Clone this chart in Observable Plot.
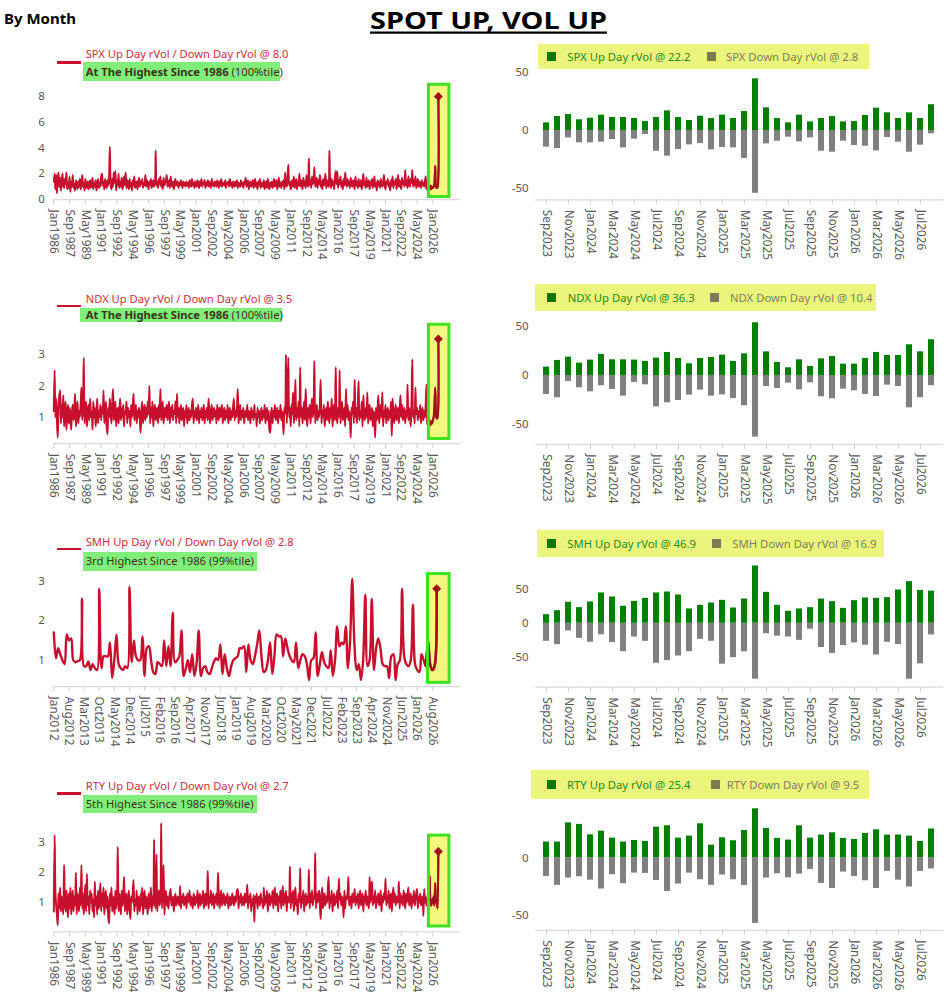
<!DOCTYPE html>
<html><head><meta charset="utf-8">
<script src="https://cdn.jsdelivr.net/npm/d3@7"></script>
<script src="https://cdn.jsdelivr.net/npm/@observablehq/plot@0.6"></script>
<style>
body{margin:0;background:#fff;}
#page{position:relative;width:949px;height:997px;overflow:hidden;font-family:"Noto Sans","Open Sans",sans-serif;}
.abs{position:absolute;white-space:nowrap;}
</style></head><body><div id="page"></div>
<script>
// ---------- DATA ----------
const spxRatio = [
1.4,2.0,0.8,1.9,0.5,1.5,2.1,1.0,1.7,0.7,1.3,2.0,
1.1,0.9,1.6,1.2,2.1,0.8,1.3,0.9,1.8,0.6,1.4,1.0,
1.9,0.9,1.2,0.7,1.5,1.1,0.8,1.4,1.0,1.6,0.8,1.2,
1.9,1.0,1.3,0.7,1.6,1.1,0.9,1.4,0.8,1.2,1.5,0.9,
1.1,1.7,0.8,1.3,1.0,1.5,0.7,1.2,1.6,0.9,1.3,1.0,
1.8,2.0,1.1,1.4,0.8,1.6,1.2,0.9,1.5,1.1,1.7,4.1,
1.2,0.8,1.6,1.0,2.1,1.3,2.2,0.7,1.5,1.1,2.0,0.9,
1.4,1.0,1.7,0.8,1.3,1.8,1.1,2.1,0.9,1.5,1.2,0.8,
1.6,1.0,1.3,0.7,1.5,1.1,1.8,0.9,1.2,1.4,0.8,1.3,
1.7,1.0,1.4,1.2,1.6,0.9,1.3,1.1,1.9,1.0,1.5,1.2,
0.8,1.4,1.1,1.6,0.9,1.3,1.5,1.0,1.2,3.8,1.1,1.4,
0.9,1.6,1.2,1.8,1.0,1.4,0.8,1.7,1.1,1.3,1.5,1.9,
1.0,1.3,1.5,0.9,1.8,1.2,1.0,1.4,0.8,1.3,1.6,1.1,
1.2,1.4,0.9,1.3,1.1,1.5,1.2,0.9,1.4,1.1,1.3,1.0,
1.4,1.1,1.3,0.9,1.5,1.2,1.0,1.6,1.1,1.3,0.9,1.4,
1.2,1.0,1.5,1.3,0.9,1.4,1.1,1.6,1.0,1.3,1.2,1.5,
0.9,1.3,1.1,1.5,1.0,1.4,1.2,0.9,1.6,1.1,1.3,1.0,
1.4,1.2,1.0,1.5,1.3,0.9,1.4,1.1,1.6,1.0,1.3,1.2,
1.1,1.5,0.9,1.3,1.2,1.4,1.0,1.6,1.1,1.3,0.9,1.4,
1.2,1.0,1.4,1.1,1.5,0.9,1.3,1.2,1.0,1.5,1.1,1.3,
0.9,1.4,1.2,1.7,1.0,1.3,1.5,0.8,1.2,1.4,1.0,1.3,
1.5,0.9,1.2,1.6,1.0,1.3,0.8,1.4,1.1,1.6,0.9,1.2,
1.3,1.0,1.5,0.8,1.2,1.4,0.9,1.6,1.1,0.8,1.3,1.0,
1.4,0.9,1.2,1.6,1.0,1.3,1.5,0.8,1.2,1.7,1.0,1.3,
0.9,1.4,1.1,1.5,0.8,2.1,1.2,1.0,1.6,2.7,1.1,1.4,
0.8,1.3,1.5,1.0,1.8,0.9,1.2,1.6,0.8,1.4,1.1,2.0,
1.0,1.5,1.2,0.8,1.7,1.1,1.4,0.9,1.9,1.2,1.0,3.2,
1.1,1.5,0.9,1.8,1.2,1.4,2.5,1.0,1.3,1.7,0.9,1.5,
1.2,1.9,1.0,1.4,0.8,1.6,1.1,1.3,2.0,0.9,1.5,1.2,
1.0,3.8,1.3,0.9,1.6,1.1,1.4,0.8,1.7,2.2,1.2,2.2,
0.9,1.5,1.2,1.8,1.0,1.4,0.8,1.6,1.1,2.1,1.3,1.0,
1.6,1.1,1.4,0.9,1.7,1.2,1.0,1.5,1.3,0.8,1.8,1.1,
1.4,0.9,1.6,1.2,1.0,1.5,0.8,1.3,2.0,1.1,1.4,0.9,
1.7,1.0,1.3,1.5,0.8,1.4,1.1,1.6,0.9,1.2,1.8,1.0,
1.3,0.7,1.5,1.1,1.4,0.9,1.6,1.2,1.0,1.3,1.9,1.1,
0.8,1.4,1.2,1.6,1.0,1.3,0.7,1.5,1.1,1.8,0.9,1.4,
1.2,1.6,0.8,1.3,1.9,1.0,1.5,1.1,0.8,1.7,1.2,1.4,
1.0,2.3,1.1,1.5,0.9,1.8,1.2,1.0,1.6,1.3,2.3,1.0,
1.5,1.1,1.8,0.9,1.3,1.6,1.0,1.4,1.2,0.9,1.5,1.1,
1.3,1.0,1.4,1.8,0.8,0.9,1.0,0.8,0.9,1.1,0.8,1.0,
0.9,1.0,1.2,2.6,1.0,0.9,1.0,8.0];

const ndxRatio = [
1.2,2.5,1.0,1.6,0.9,0.35,1.3,1.7,1.85,0.8,1.4,1.0,
1.7,0.7,1.2,1.5,0.6,1.1,1.4,0.8,1.3,1.0,0.6,1.2,
1.4,0.9,1.2,1.75,0.7,1.1,1.5,0.8,1.2,1.0,1.4,1.95,
0.9,1.3,2.9,0.8,1.2,1.5,0.7,1.1,1.4,0.9,1.6,1.0,
1.2,0.6,1.5,1.0,1.3,0.7,1.1,1.6,0.8,1.2,1.0,1.4,
0.9,1.3,1.1,1.85,0.8,1.2,1.5,0.7,0.45,1.3,1.0,1.6,
1.1,0.8,1.4,1.9,0.9,1.2,1.5,0.7,1.1,1.3,0.8,1.2,
1.6,0.9,1.3,1.0,1.4,0.7,1.2,1.1,1.5,0.8,1.3,1.0,
1.2,0.7,1.4,1.0,1.3,1.75,0.9,1.1,1.4,0.8,1.2,1.0,
1.3,0.9,0.5,1.2,1.5,0.8,1.1,1.4,0.9,1.3,1.0,1.5,
1.1,2.0,0.8,1.3,1.0,1.5,0.7,1.2,1.4,0.9,1.1,1.3,
0.8,1.4,1.0,1.9,0.9,1.2,1.5,0.8,1.1,1.3,1.0,1.4,
0.9,1.2,1.5,0.8,1.3,1.0,1.4,0.9,1.2,1.1,1.5,0.8,
1.75,1.0,1.3,0.8,1.2,1.4,0.9,1.1,1.3,0.7,1.2,1.0,
1.4,0.8,1.1,1.3,0.9,1.2,1.0,1.4,1.6,0.8,1.2,1.0,
1.3,0.9,1.1,1.4,0.8,1.2,1.0,1.3,0.9,1.1,1.4,0.8,
1.2,1.0,1.3,0.9,1.6,1.1,0.8,1.2,1.4,0.9,1.1,1.3,
1.0,1.2,0.8,1.4,1.1,0.9,1.3,1.0,1.2,1.4,0.8,1.1,
1.3,0.9,1.2,1.0,1.4,0.8,1.1,1.3,0.9,1.2,1.0,1.3,
1.6,0.9,1.2,1.0,1.3,1.9,0.8,1.1,1.4,0.9,1.2,1.0,
1.3,0.8,1.1,1.2,1.0,1.4,0.9,1.2,1.1,0.8,1.3,1.0,
1.2,0.9,1.4,1.0,1.1,0.7,1.3,1.0,1.2,0.8,1.1,1.3,
0.9,1.2,1.0,1.4,0.8,1.1,1.3,0.9,1.2,0.6,0.5,1.1,
1.3,0.8,1.2,1.0,1.4,0.9,1.1,1.3,0.8,1.2,1.0,1.4,
0.9,1.2,1.0,0.45,1.3,1.1,3.0,0.8,1.5,2.9,1.0,1.3,
0.7,1.4,1.1,1.8,0.8,1.2,2.2,0.9,1.3,1.0,1.5,0.7,
2.6,1.0,1.3,0.8,1.2,1.5,0.9,1.9,1.1,0.7,1.3,1.0,
1.4,0.8,1.2,1.6,1.0,1.3,2.8,0.8,1.1,1.4,0.9,1.2,
1.0,1.5,2.2,0.8,1.2,1.0,1.4,0.7,1.1,1.3,0.9,1.5,
1.1,0.8,1.3,1.0,1.6,0.7,1.2,1.4,0.9,2.6,1.1,0.8,
1.3,1.0,2.5,0.8,1.2,1.5,0.9,1.1,1.3,0.7,1.9,1.0,
1.4,0.9,1.2,1.0,0.35,1.3,1.1,1.5,0.8,2.2,1.0,1.3,
0.8,1.4,2.15,0.9,1.2,1.0,1.5,0.7,1.7,1.1,0.9,1.3,
1.0,1.8,0.8,1.2,1.4,0.9,1.1,1.3,0.7,1.2,1.0,0.35,
1.3,0.9,1.2,1.7,0.8,1.1,1.4,1.0,1.8,0.7,1.2,1.0,
1.4,0.8,1.1,1.3,0.9,1.2,1.0,1.5,0.4,1.6,1.1,0.8,
1.2,1.4,0.9,1.1,1.3,0.8,1.2,1.7,1.0,1.4,0.9,1.1,
1.3,0.8,1.2,1.0,2.05,0.9,1.3,1.1,0.7,1.4,2.85,1.0,
1.2,0.8,1.95,1.1,1.3,0.9,1.2,1.0,1.4,0.8,1.1,1.3,
0.9,1.2,1.0,1.4,2.05,0.8,0.75,0.8,0.9,0.75,0.85,0.8,
0.9,1.0,1.3,1.95,1.1,0.95,1.0,3.5];

const smhRatio = [
1.7,1.05,1.3,1.15,1.0,0.9,1.65,1.5,1.55,1.0,0.95,0.98,
1.0,2.55,0.85,0.85,0.97,0.75,0.9,0.8,0.75,2.8,0.8,1.1,
1.1,1.1,1.45,0.55,1.0,1.65,0.9,0.8,0.75,0.85,0.8,2.85,
0.95,1.5,1.1,1.0,1.0,1.6,0.6,1.3,1.35,1.0,0.7,0.65,
0.95,0.9,0.85,1.5,0.85,1.35,0.85,2.2,0.95,1.0,1.1,1.75,
0.6,0.8,1.0,0.7,1.15,0.6,0.9,1.75,0.6,0.8,0.85,0.7,
0.65,0.8,0.95,1.05,1.0,1.4,0.65,1.15,0.8,0.6,0.85,1.0,
1.05,1.1,1.3,1.3,1.35,0.7,1.4,1.0,0.9,1.1,1.4,1.75,
1.1,0.7,0.75,1.0,1.45,0.65,1.1,1.65,1.6,1.6,1.1,1.55,
1.3,1.1,1.0,0.95,1.45,0.8,1.0,1.15,1.1,0.9,0.5,1.0,
1.05,1.7,0.6,0.9,1.2,0.95,0.85,0.8,1.25,0.6,1.0,1.85,
1.35,1.45,1.4,1.85,0.8,1.5,3.05,1.4,0.75,0.9,0.5,1.0,
2.65,0.85,1.0,2.55,0.75,1.3,1.55,1.3,0.9,0.85,0.85,0.55,
1.1,1.15,0.5,0.9,1.0,2.8,1.1,0.9,0.85,1.0,2.4,0.9,
0.75,0.7,1.15,1.0,0.85,1.5,0.9,0.75,0.85,2.8];

const rtyRatio = [
0.7,3.25,1.4,0.9,0.6,0.25,1.3,0.8,1.5,0.7,1.2,1.0,
0.6,2.25,1.1,0.7,1.4,0.9,0.5,1.3,0.8,1.5,0.6,1.1,
1.4,0.7,1.2,0.9,2.0,0.6,1.3,1.0,0.7,1.5,0.9,2.25,
0.8,1.3,0.6,1.1,1.6,0.7,1.95,0.9,1.2,0.6,1.4,1.0,
1.3,0.7,1.1,0.5,1.7,0.9,1.2,0.6,1.4,0.8,1.1,1.65,
0.7,1.3,0.9,1.5,0.6,1.1,1.4,0.8,1.2,0.5,0.3,1.3,
0.9,1.5,0.7,1.2,1.0,0.6,1.4,0.8,1.1,2.85,0.7,1.3,
1.0,0.6,1.4,0.9,1.2,1.85,0.7,1.1,1.3,0.6,1.0,1.4,
0.8,0.45,1.2,1.0,1.3,1.75,0.7,1.1,0.9,1.4,0.6,1.2,
1.0,0.7,1.3,0.9,1.5,0.6,1.1,1.4,0.8,1.2,1.0,0.6,
1.3,0.8,1.1,1.5,0.7,1.2,0.9,3.1,1.0,0.8,2.6,0.7,
1.2,1.4,0.9,1.1,3.65,0.8,1.3,2.25,0.6,1.1,1.4,0.9,
1.2,0.8,1.1,1.3,1.45,0.9,1.0,1.2,0.7,1.1,1.3,0.9,
1.0,1.2,1.1,0.9,1.55,0.8,1.2,1.0,1.3,0.9,1.1,1.2,
0.8,1.3,1.0,1.1,1.4,0.9,1.2,1.0,0.8,1.3,1.1,0.9,
1.2,1.0,1.4,0.8,1.1,1.3,0.9,1.2,1.0,1.4,0.8,1.1,
1.3,0.9,1.1,2.05,0.8,1.2,1.0,1.4,0.9,1.1,1.3,0.8,
1.2,1.0,1.3,0.9,2.0,1.1,0.8,1.2,1.4,0.9,1.0,1.3,
1.1,0.9,1.2,1.0,1.3,0.8,1.1,1.2,0.9,1.0,1.3,1.1,
0.9,1.2,1.0,1.1,1.4,1.45,0.8,1.2,1.0,1.3,0.9,1.1,
1.2,0.9,1.3,1.0,1.1,1.6,0.8,1.2,1.0,1.3,0.7,1.1,
0.9,1.25,0.35,1.2,1.0,1.3,0.8,1.1,1.2,0.9,1.3,1.0,
1.1,0.8,1.5,0.9,1.2,1.0,1.4,0.7,1.1,1.3,0.9,1.2,
1.0,1.4,0.8,1.2,1.5,0.9,1.1,1.3,0.7,1.2,1.0,1.4,
0.8,1.2,1.55,0.9,1.3,1.0,1.4,0.7,1.2,1.0,1.1,2.2,
0.8,1.3,1.0,1.4,0.7,1.2,1.5,0.9,1.1,0.6,1.3,1.0,
2.15,0.8,1.2,1.0,1.4,0.7,1.1,1.3,0.9,1.2,1.0,2.1,
0.8,1.3,1.0,1.4,0.9,1.1,1.2,2.65,0.8,1.3,1.0,1.2,
1.4,0.9,0.45,1.2,1.5,0.8,1.1,1.3,0.9,1.2,1.0,1.4,
1.85,0.8,1.2,1.0,1.4,0.7,1.1,1.3,0.9,1.2,1.0,1.4,
0.8,1.8,1.1,1.3,0.9,1.2,1.0,0.5,1.4,0.8,1.2,1.1,
1.3,1.85,0.9,1.1,1.2,0.8,1.3,1.0,1.1,1.45,0.9,1.2,
1.0,1.3,0.8,1.2,1.4,0.9,1.1,1.3,0.7,1.2,1.0,1.4,
0.9,1.2,1.1,0.8,1.85,1.0,1.3,1.7,0.9,1.2,1.0,1.4,
0.8,1.2,1.0,1.3,0.9,1.1,1.4,0.7,1.2,1.0,1.3,1.1,
1.8,0.9,1.2,1.0,1.4,0.8,1.1,1.3,0.7,1.2,1.5,1.0,
1.3,0.9,1.2,1.0,1.1,1.7,0.8,1.3,1.0,1.2,0.9,1.4,
1.1,0.8,1.3,1.0,1.2,1.5,0.9,1.1,1.3,0.8,1.2,1.0,
1.4,0.9,1.1,1.3,1.45,0.8,1.2,1.0,1.3,0.9,1.1,1.2,
0.55,1.45,1.0,1.2,0.9,1.1,1.0,1.3,1.9,1.0,0.9,1.1,
1.0,1.2,0.9,1.65,1.0,1.1,0.8,2.7];

const longTicks = ["Jan1986","Sep1987","May1989","Jan1991","Sep1992","May1994","Jan1996","Sep1997","May1999","Jan2001","Sep2002","May2004","Jan2006","Sep2007","May2009","Jan2011","Sep2012","May2014","Jan2016","Sep2017","May2019","Jan2021","Sep2022","May2024","Jan2026"];
const smhTicks = ["Jan2012","Aug2012","Mar2013","Oct2013","May2014","Dec2014","Jul2015","Feb2016","Sep2016","Apr2017","Nov2017","Jun2018","Jan2019","Aug2019","Mar2020","Oct2020","May2021","Dec2021","Jul2022","Feb2023","Sep2023","Apr2024","Nov2024","Jun2025","Jan2026","Aug2026"];

const barMonths = ["Sep2023","Oct2023","Nov2023","Dec2023","Jan2024","Feb2024","Mar2024","Apr2024","May2024","Jun2024","Jul2024","Aug2024","Sep2024","Oct2024","Nov2024","Dec2024","Jan2025","Feb2025","Mar2025","Apr2025","May2025","Jun2025","Jul2025","Aug2025","Sep2025","Oct2025","Nov2025","Dec2025","Jan2026","Feb2026","Mar2026","Apr2026","May2026","Jun2026","Jul2026","Aug2026"];
const barTicks = ["Sep2023","Nov2023","Jan2024","Mar2024","May2024","Jul2024","Sep2024","Nov2024","Jan2025","Mar2025","May2025","Jul2025","Sep2025","Nov2025","Jan2026","Mar2026","May2026","Jul2026"];

const spxUp   = [6.6,12,13.8,9.2,10.6,13.2,11.2,11.2,10.3,7.7,11.2,16.9,11.2,8.6,12.3,10.3,13.2,10.3,16.3,44.4,19.5,10.3,6.6,13.2,7.4,10.3,12,7.4,7.7,12.9,19.2,15.2,10.3,15.2,10.3,22.2];
const spxDown = [14.3,15.5,6.3,10.6,10.6,10,7.7,14.9,7.4,3.4,17.8,22,16.3,12.3,11.2,16.6,14.6,14.9,24,53.9,11.5,9.2,5.7,9.7,6.3,17.8,18.6,9.2,12.9,13.5,17.5,6,10,18.6,12.6,2.8];
const ndxUp   = [8.5,15.3,18.6,12.5,15.6,21.4,15.9,15.9,15.6,14.2,17.6,23.4,17.3,11.9,17.3,18.3,20.7,14.2,22,53.6,24,13.2,7.8,15.9,9.2,16.9,19.3,11.5,11.5,17.3,23.4,20.3,20.3,31.2,24,36.3];
const ndxDown = [19.3,22.7,6.1,12.5,16.6,10.5,14.2,21,7.1,9.5,31.9,27.8,25.4,20,14.9,21,19.7,23.4,30.8,62.7,11.2,13.2,7.8,14.6,7.5,21.7,23.7,13.9,15.6,19.3,21.4,9.8,11.2,32.9,22.7,10.4];
const smhUp   = [12.6,18.4,30.6,22.8,31.1,44.2,38.3,24.8,32,36.4,44.2,45.6,41.3,20.9,26.2,29.6,33.5,22.3,35.4,83.5,45.1,26.2,17.5,20.9,22.8,35.4,31.6,21.8,33,36.9,36.4,37.4,48.5,60.7,48,46.9];
const smhDown = [26.2,31,11,21.9,27.6,16.7,28.1,41.4,20,26.2,58.1,54.3,47.6,41.4,23.3,26.2,59.5,50,41.4,81.4,15.2,18.6,20,24.8,8.6,35.2,43.8,32.4,28.6,31.9,46.2,27.6,31,81.4,59,16.9];
const rtyUp   = [14,14,30.8,29.4,20.3,23.5,17.4,14,15.4,14.5,27,28.2,17.4,19.2,29.9,11.3,17.7,15.1,24.1,43,25.9,17.2,15.7,28.2,17.4,20.1,22.1,17.2,16.3,21.5,24.7,20.1,20.1,19.2,14.5,25.4];
const rtyDown = [16,23.8,17.4,16.3,19.2,27,14.5,22.4,13.1,13.4,19.5,29.1,22.7,13.1,18.9,23.8,14.8,18.9,23.8,57,17.4,13.7,17.2,14,9.9,22.1,26.5,12.2,16,19.8,26.5,11.6,19.2,25.3,11.6,9.5];

const tickers = ["SPX","NDX","SMH","RTY"];
const badgeBold = ["At The Highest Since 1986","At The Highest Since 1986","",""];
const badgeRest = ["(100%tile)","(100%tile)","3rd Highest Since 1986 (99%tile)","5th Highest Since 1986 (99%tile)"];

// ---------- RENDER ----------
const RED = "#c8102e", DARK = "#a30f16", FONT = '"Noto Sans","Open Sans",sans-serif';
const page = document.getElementById("page");
const parseMon = d3.utcParse("%b%Y");
const fmtMon = d3.utcFormat("%b%Y");
function addDiv(style, html) {
  const d = document.createElement("div"); d.className = "abs";
  Object.assign(d.style, style); if (html != null) d.innerHTML = html;
  page.appendChild(d); return d;
}
const px = v => v + "px";

function drawLine(c) {
  const s = parseMon(c.start);
  const data = c.values.map((v, i) => ({date: d3.utcMonth.offset(s, i), v}));
  const bFrom = parseMon(c.box[0]), bTo = parseMon(c.box[1]);
  const tail = data.filter(d => d.date >= d3.utcMonth.offset(bFrom, -1));
  const last = data[data.length - 1];
  const box = [{x1: bFrom, x2: bTo, y1: c.boxY[0], y2: c.boxY[1]}];
  const mt = 6, mb = 66;
  const svg = Plot.plot({
    width: 470, height: mt + (c.bottom - c.top) + mb,
    marginLeft: 53.3, marginRight: 10, marginTop: mt, marginBottom: mb,
    style: {fontFamily: FONT, fontSize: "11.5px", background: "none", overflow: "visible", color: "#595959"},
    x: {type: "utc", domain: [s, parseMon(c.end)]},
    y: {domain: c.yDomain},
    marks: [
      Plot.rect(box, {x1: "x1", x2: "x2", y1: "y1", y2: "y2", fill: "#f6f77e"}),
      Plot.ruleY([c.yDomain[0]], {stroke: "#d9d9d9", strokeWidth: 1.2}),
      Plot.axisY({ticks: c.yTicks, tickFormat: d => String(d), tickSize: 0, tickPadding: 9, fontSize: 11.5, fill: "#595959", label: null}),
      Plot.axisX({ticks: c.ticks.map(parseMon), tickFormat: fmtMon, tickRotate: 90, tickSize: 5, tickPadding: 5,
                  stroke: "#d0d0d0", fill: "#595959", fontSize: 11.8, label: null}),
      Plot.line(data, {x: "date", y: "v", stroke: RED, strokeWidth: c.sw, curve: "catmull-rom"}),
      Plot.line(tail, {x: "date", y: "v", stroke: DARK, strokeWidth: c.sw, curve: "catmull-rom"}),
      Plot.dot([last], {x: "date", y: "v", symbol: "square", rotate: 45, r: 3.6, fill: DARK}),
      Plot.rect(box, {x1: "x1", x2: "x2", y1: "y1", y2: "y2", fill: "none", stroke: "#3fe21f", strokeWidth: 3})
    ]
  });
  Object.assign(svg.style, {position: "absolute", left: "0px", top: px(c.top - mt), maxWidth: "none"});
  page.appendChild(svg);
  return last.v;
}

function drawBars(c) {
  const rows = barMonths.map((m, i) => ({m, up: c.up[i], down: -c.down[i]}));
  const mt = 4, mb = 62;
  const svg = Plot.plot({
    width: 459, height: mt + (c.bottom - c.top) + mb,
    marginLeft: 45.1, marginRight: 5.8, marginTop: mt, marginBottom: mb,
    style: {fontFamily: FONT, fontSize: "11.5px", background: "none", overflow: "visible", color: "#595959"},
    x: {type: "band", domain: barMonths, paddingInner: 0.41, paddingOuter: 0.2},
    y: {domain: c.yDomain},
    marks: [
      Plot.ruleY([c.yDomain[0]], {stroke: "#d9d9d9", strokeWidth: 1.2}),
      Plot.barY(rows, {x: "m", y: "up", fill: "#008000"}),
      Plot.barY(rows, {x: "m", y: "down", fill: "#808080"}),
      Plot.axisY({ticks: c.yTicks, tickFormat: d => String(d), tickSize: 0, tickPadding: 7, fontSize: 11.5, fill: "#595959", label: null}),
      Plot.axisX({ticks: barTicks, tickRotate: 90, tickSize: 5, tickPadding: 5, stroke: "#d0d0d0", fill: "#595959", fontSize: 11.8, label: null})
    ]
  });
  Object.assign(svg.style, {position: "absolute", left: "490px", top: px(c.top - mt), maxWidth: "none"});
  page.appendChild(svg);
}

function leftLegend(i, lastVal, L) {
  addDiv({left: "57.3px", top: px(L.lineY - 1.25), width: "23.7px", height: "2.5px", background: RED});
  addDiv({left: "85.7px", top: px(L.t1 - 8), lineHeight: "16px", fontSize: "11.2px", color: "#c92f40"},
    `${tickers[i]} Up Day rVol / Down Day rVol @ ${lastVal.toFixed(1)}`);
  addDiv({left: px(L.bx0), top: px(L.by0), width: px(L.bx1 - L.bx0), height: px(L.by1 - L.by0), background: "#80ee78"});
  addDiv({left: "85.7px", top: px(L.t2 - 8), lineHeight: "16px", fontSize: "11.2px", color: "#3a3418"},
    (badgeBold[i] ? `<b>${badgeBold[i]}</b> ` : "") + badgeRest[i]);
}

function rightLegend(i, up, down, R) {
  addDiv({left: px(R.x0), top: px(R.y0), width: px(R.x1 - R.x0), height: px(R.y1 - R.y0), background: "#ebf57c"});
  const cy = (R.y0 + R.y1) / 2;
  addDiv({left: px(R.gs), top: px(cy - 4.5), width: "9px", height: "9px", background: "#007800"});
  addDiv({left: px(R.gt), top: px(cy - 8), lineHeight: "16px", fontSize: "11.3px", color: "#1f8c1f"},
    `${tickers[i]} Up Day rVol @ ${up.toFixed(1)}`);
  addDiv({left: px(R.rs), top: px(cy - 4.5), width: "9px", height: "9px", background: "#7c7c54"});
  addDiv({left: px(R.rt), top: px(cy - 8), lineHeight: "16px", fontSize: "11.3px", color: "#80805c"},
    `${tickers[i]} Down Day rVol @ ${down.toFixed(1)}`);
}

// title
const tsvg = d3.create("svg").attr("width", 949).attr("height", 40)
  .style("position", "absolute").style("left", "0px").style("top", "0px");
tsvg.append("text").attr("x", 4).attr("y", 24).attr("font-family", FONT).attr("font-weight", 700)
  .attr("font-size", 15).attr("fill", "#000").text("By Month");
tsvg.append("text").attr("x", 370).attr("y", 29.3).attr("font-family", FONT).attr("font-weight", 700)
  .attr("font-size", 23).attr("fill", "#000").attr("textLength", 237).attr("lengthAdjust", "spacingAndGlyphs")
  .text("SPOT UP, VOL UP");
tsvg.append("line").attr("x1", 370).attr("x2", 607).attr("y1", 32.6).attr("y2", 32.6)
  .attr("stroke", "#000").attr("stroke-width", 2.2);
page.appendChild(tsvg.node());

const lineCfg = [
  {values: spxRatio, start: "Jan1986", end: "Dec2028", ticks: longTicks, yDomain: [0, 9], yTicks: [0,2,4,6,8],
   box: ["Aug2025","Oct2027"], boxY: [0.2, 8.9], top: 83.2, bottom: 199.3, sw: 2},
  {values: ndxRatio, start: "Jan1986", end: "Dec2028", ticks: longTicks, yDomain: [0.15, 4.0], yTicks: [1,2,3],
   box: ["Aug2025","Oct2027"], boxY: [0.3, 3.96], top: 323.1, bottom: 443.3, sw: 2},
  {values: smhRatio, start: "Jan2012", end: "Sep2027", ticks: smhTicks, yDomain: [0.335, 3.21], yTicks: [1,2,3],
   box: ["Jun2026","Apr2027"], boxY: [0.43, 3.17], top: 571.6, bottom: 685.7, sw: 2.4},
  {values: rtyRatio, start: "Jan1986", end: "Dec2028", ticks: longTicks, yDomain: [0.02, 3.7], yTicks: [1,2,3],
   box: ["Aug2025","Oct2027"], boxY: [0.2, 3.23], top: 820.7, bottom: 931.1, sw: 2}
];
const leftLeg = [
  {t1: 54.3, lineY: 62.3, bx0: 82.7, by0: 61.7, bx1: 280, by1: 81, t2: 71.5},
  {t1: 299, lineY: 306, bx0: 80, by0: 308.3, bx1: 281.7, by1: 322.3, t2: 315.3},
  {t1: 542.3, lineY: 549, bx0: 82.7, by0: 551.7, bx1: 257.3, by1: 570.7, t2: 561},
  {t1: 786, lineY: 793.3, bx0: 82.7, by0: 795, bx1: 257.3, by1: 812.7, t2: 803.5}
];
const barCfg = [
  {up: spxUp, down: spxDown, yDomain: [-59.5, 55], yTicks: [-50, 0, 50], top: 66, bottom: 199.3},
  {up: ndxUp, down: ndxDown, yDomain: [-70, 62], yTicks: [-50, 0, 50], top: 313.6, bottom: 443.4},
  {up: smhUp, down: smhDown, yDomain: [-93, 90], yTicks: [-50, 0, 50], top: 560.7, bottom: 686.4},
  {up: rtyUp, down: rtyDown, yDomain: [-63, 52], yTicks: [-50, 0], top: 798.1, bottom: 929.9}
];
const rightLeg = [
  {x0: 538.3, y0: 44, x1: 869, y1: 69, gs: 546.7, gt: 567.3, rs: 707.3, rt: 726},
  {x0: 535, y0: 284, x1: 875.7, y1: 311, gs: 546.7, gt: 567.7, rs: 710, rt: 730},
  {x0: 536.7, y0: 530, x1: 884.3, y1: 557.3, gs: 547.3, gt: 567.3, rs: 711.7, rt: 732.3},
  {x0: 531, y0: 770, x1: 869, y1: 799, gs: 546.7, gt: 567, rs: 710.7, rt: 726.7}
];

lineCfg.forEach((c, i) => {
  const lastVal = drawLine(c);
  leftLegend(i, lastVal, leftLeg[i]);
  const b = barCfg[i];
  drawBars(b);
  rightLegend(i, b.up[b.up.length - 1], b.down[b.down.length - 1], rightLeg[i]);
});
</script></body></html>
